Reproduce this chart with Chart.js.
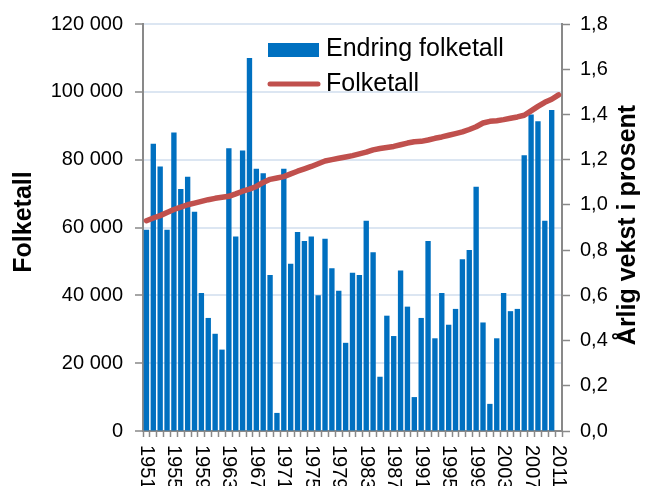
<!DOCTYPE html>
<html>
<head>
<meta charset="utf-8">
<script src="https://cdn.jsdelivr.net/npm/chart.js@4.4.1/dist/chart.umd.min.js"></script>
<style>
html, body { margin: 0; padding: 0; background: #fff; }
#wrap { width: 646px; height: 486px; }
</style>
</head>
<body>
<div id="wrap"><canvas id="chart" width="646" height="486"></canvas></div>
<script>
var years = ["1951","1952","1953","1954","1955","1956","1957","1958","1959","1960",
    "1961","1962","1963","1964","1965","1966","1967","1968","1969","1970",
    "1971","1972","1973","1974","1975","1976","1977","1978","1979","1980",
    "1981","1982","1983","1984","1985","1986","1987","1988","1989","1990",
    "1991","1992","1993","1994","1995","1996","1997","1998","1999","2000",
    "2001","2002","2003","2004","2005","2006","2007","2008","2009","2010","2011"];

// tick labels shown under the x axis
var xTickLabels = ["1951","1955","1959","1963","1967","1971","1975","1979",
    "1983","1987","1991","1995","1999","2003","2007","2011"];

// Endring folketall, årlig vekst i prosent (right axis)
var growth = [0.89, 1.27, 1.17, 0.89, 1.32, 1.07, 1.125, 0.97, 0.61, 0.50,
    0.43, 0.36, 1.25, 0.86, 1.24, 1.65, 1.16, 1.14, 0.69, 0.08,
    1.16, 0.74, 0.88, 0.84, 0.86, 0.60, 0.85, 0.72, 0.62, 0.39,
    0.70, 0.69, 0.93, 0.79, 0.24, 0.51, 0.42, 0.71, 0.55, 0.15,
    0.50, 0.84, 0.41, 0.61, 0.47, 0.54, 0.76, 0.80, 1.08, 0.48,
    0.12, 0.41, 0.61, 0.53, 0.54, 1.22, 1.40, 1.37, 0.93, 1.42, null];

// Folketall (left axis)
var population = [62000, 62800, 63500, 64400, 65300, 66000, 66700, 67200, 67700, 68200,
    68600, 68900, 69200, 69900, 70700, 71300, 72100, 73300, 74200, 74600,
    75000, 75800, 76600, 77300, 78000, 78800, 79600, 80000, 80400, 80800,
    81200, 81700, 82200, 82900, 83300, 83600, 83900, 84400, 84900, 85300,
    85400, 85800, 86300, 86700, 87200, 87700, 88200, 88900, 89700, 90800,
    91300, 91500, 91800, 92200, 92600, 93100, 94400, 95700, 96900, 97800, 99100];

var FONT = '"Liberation Sans", Arial, sans-serif';
var AXIS_GRAY = "#898989";

function drawRotated(ctx, text, x, y, angle) {
    ctx.save();
    ctx.translate(x, y);
    ctx.rotate(angle);
    ctx.fillText(text, 0, 0);
    ctx.restore();
}

var extras = {
    id: "extras",
    afterDraw: function (chart) {
        var ctx = chart.ctx;
        var xs = chart.scales.x;
        ctx.save();
        ctx.fillStyle = "#000";

        // x labels, rotated clockwise
        ctx.font = "20px " + FONT;
        ctx.textAlign = "left";
        ctx.textBaseline = "middle";
        for (var i = 0; i < years.length; i++) {
            if (xTickLabels.indexOf(years[i]) < 0) continue;
            drawRotated(ctx, years[i], xs.getPixelForValue(i), 445, Math.PI / 2);
        }

        // axis titles
        ctx.font = "bold 25px " + FONT;
        ctx.textAlign = "center";
        drawRotated(ctx, "Folketall", 24, 222, -Math.PI / 2);
        drawRotated(ctx, "Årlig vekst i prosent", 628, 225, -Math.PI / 2);

        // legend
        ctx.fillStyle = "#0070C0";
        ctx.fillRect(268, 43, 51, 14);
        ctx.strokeStyle = "#C0504D";
        ctx.lineWidth = 5;
        ctx.lineCap = "round";
        ctx.beginPath();
        ctx.moveTo(270, 84);
        ctx.lineTo(318, 84);
        ctx.stroke();
        ctx.fillStyle = "#000";
        ctx.font = "25px " + FONT;
        ctx.textAlign = "left";
        ctx.fillText("Endring folketall", 326, 49);
        ctx.fillText("Folketall", 326, 84);
        ctx.restore();
    }
};

var ctx = document.getElementById("chart").getContext("2d");
new Chart(ctx, {
    type: "bar",
    data: {
        labels: years,
        datasets: [
            {
                type: "line",
                label: "Folketall",
                data: population,
                yAxisID: "y",
                borderColor: "#C0504D",
                borderWidth: 5.5,
                borderCapStyle: "round",
                borderJoinStyle: "round",
                pointRadius: 0,
                tension: 0,
                order: 0
            },
            {
                label: "Endring folketall",
                data: growth,
                yAxisID: "y1",
                backgroundColor: "#0070C0",
                barPercentage: 0.78,
                categoryPercentage: 1.0,
                order: 1
            }
        ]
    },
    options: {
        responsive: false,
        animation: false,
        layout: { padding: { top: 23, left: 0, right: 0, bottom: 0 } },
        plugins: {
            legend: { display: false },
            tooltip: { enabled: false }
        },
        scales: {
            x: {
                grid: {
                    offset: true,
                    drawOnChartArea: false,
                    tickLength: 6,
                    tickColor: AXIS_GRAY,
                    tickWidth: 1.5
                },
                border: { color: AXIS_GRAY, width: 2 },
                ticks: { display: false, autoSkip: false },
                afterFit: function (scale) { scale.height = 55; }
            },
            y: {
                position: "left",
                min: 0,
                max: 120000,
                ticks: {
                    stepSize: 20000,
                    padding: 12,
                    color: "#000",
                    font: { family: FONT, size: 20 },
                    callback: function (v) {
                        return String(v).replace(/\B(?=(\d{3})+(?!\d))/g, " ");
                    }
                },
                grid: {
                    color: "#DCE6F2",
                    lineWidth: 2,
                    tickLength: 8,
                    tickColor: AXIS_GRAY,
                    tickWidth: 1.5
                },
                border: { color: AXIS_GRAY, width: 2 },
                afterFit: function (scale) { scale.width = 143; }
            },
            y1: {
                position: "right",
                min: 0,
                max: 1.8,
                ticks: {
                    stepSize: 0.2,
                    padding: 10,
                    color: "#000",
                    font: { family: FONT, size: 20 },
                    callback: function (v) {
                        return v.toFixed(1).replace(".", ",");
                    }
                },
                grid: {
                    drawOnChartArea: false,
                    tickLength: 8,
                    tickColor: AXIS_GRAY,
                    tickWidth: 1.5
                },
                border: { color: AXIS_GRAY, width: 2 },
                afterFit: function (scale) { scale.width = 84; }
            }
        }
    },
    plugins: [extras]
});
</script>
</body>
</html>
